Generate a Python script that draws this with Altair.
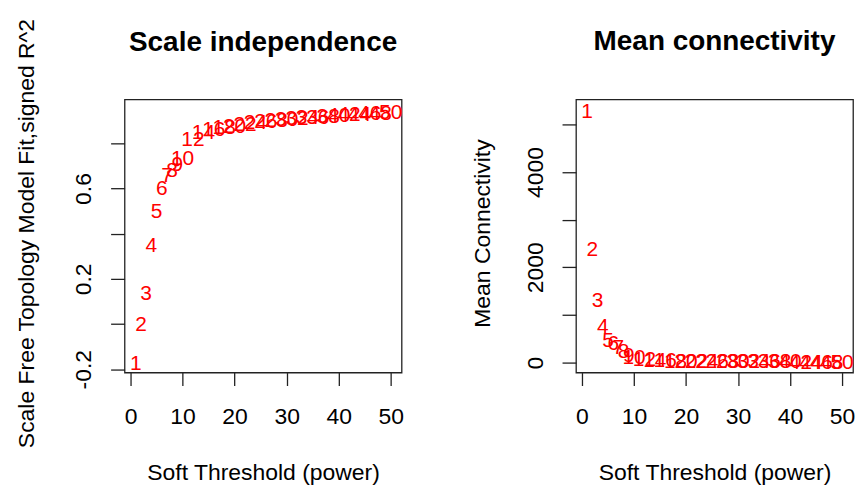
import altair as alt
import pandas as pd

# Candidate soft-thresholding powers
powers = list(range(1, 11)) + list(range(12, 51, 2))

# Scale-free topology fit index: -sign(slope) * R^2
signed_r2 = [-0.178, -0.006, 0.131, 0.344, 0.494, 0.598, 0.657, 0.678, 0.705, 0.731,
             0.815, 0.845, 0.857, 0.866, 0.873, 0.880, 0.888, 0.893, 0.899, 0.904,
             0.908, 0.911, 0.914, 0.918, 0.921, 0.924, 0.926, 0.928, 0.931, 0.933]

# Mean connectivity of the adjacency network
mean_k = [5263, 2370, 1289, 753, 452, 383, 314, 230, 138, 90,
          55, 40, 30, 20, 15, 11, 9, 7, 5, 4,
          3.5, 3, 2.5, 2, 1.8, 1.5, 1.3, 1.1, 1.0, 0.9]

x_ticks = [0, 10, 20, 30, 40, 50]
fit_ticks = [-0.2, 0.0, 0.2, 0.4, 0.6, 0.8]
k_ticks = [0, 1000, 2000, 3000, 4000, 5000]

df = pd.DataFrame({
    "power": powers,
    "label": [str(p) for p in powers],
    "fit": signed_r2,
    "k": mean_k,
})

FONT = "Liberation Sans"
W, H = 278, 274

x_enc = alt.X(
    "power:Q",
    scale=alt.Scale(domain=[-1.15, 52.1], nice=False, zero=False),
    axis=alt.Axis(
        values=x_ticks,
        title="Soft Threshold (power)",
        titleX=W / 2,
        titleY=107,
        titleAlign="center",
        titleBaseline="alphabetic",
        labelBaseline="alphabetic",
        labelPadding=38,
        tickSize=13,
    ),
)


def panel(field, domain, ticks, label_expr, y_title, title_x, heading, heading_dy):
    return (
        alt.Chart(df)
        .mark_text(color="#FF0000", font=FONT, fontSize=21, align="center", baseline="middle")
        .encode(
            x=x_enc,
            y=alt.Y(
                f"{field}:Q",
                scale=alt.Scale(domain=domain, nice=False, zero=False),
                axis=alt.Axis(
                    values=ticks,
                    labelExpr=label_expr,
                    title=y_title,
                    titleAngle=270,
                    titleX=title_x,
                    titleY=H / 2 - 3,
                    titleAlign="center",
                    titleBaseline="alphabetic",
                    labelAngle=270,
                    labelAlign="center",
                    labelBaseline="alphabetic",
                    labelPadding=20,
                    tickSize=14,
                ),
            ),
            text="label:N",
        )
        .properties(
            width=W,
            height=H,
            title=alt.Title(
                heading,
                font=FONT,
                fontSize=28,
                fontWeight="bold",
                color="black",
                anchor="middle",
                baseline="alphabetic",
                offset=22,
                dy=heading_dy,
                frame="group",
            ),
        )
    )


fit_labels = (
    "round(datum.value*10) == -2 ? '-0.2' : "
    "round(datum.value*10) == 2 ? '0.2' : "
    "round(datum.value*10) == 6 ? '0.6' : ''"
)
k_labels = "round(datum.value) % 2000 == 0 ? format(datum.value, 'd') : ''"

left = panel("fit", [-0.2146, 0.994], fit_ticks, fit_labels,
             "Scale Free Topology Model Fit,signed R^2", -91, "Scale independence", 83)
right = panel("k", [-209, 5523], k_ticks, k_labels,
              "Mean Connectivity", -87, "Mean connectivity", 0)

chart = (
    alt.hconcat(left, right, spacing=175, bounds="flush")
    .properties(padding={"left": 15, "top": 16, "right": 5, "bottom": 3}, background="white")
    .configure_view(stroke="#222222", strokeWidth=1.3)
    .configure_axis(
        domain=False,
        grid=False,
        ticks=True,
        tickColor="#222222",
        tickWidth=1.3,
        labelColor="black",
        titleColor="black",
        labelFont=FONT,
        titleFont=FONT,
        labelFontSize=23,
        titleFontSize=23,
        titleFontWeight="normal",
        labelFlush=False,
        labelOverlap=False,
        labelBound=False,
    )
)

chart.save("out.html", embed_options={"renderer": "svg", "actions": False})
